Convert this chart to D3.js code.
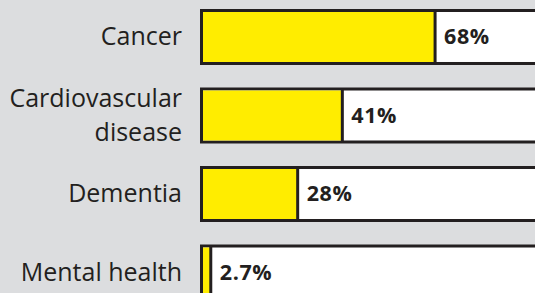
<!DOCTYPE html>
<html><head><meta charset="utf-8">
<script src="https://cdn.jsdelivr.net/npm/d3@7"></script>
<style>html,body{margin:0;padding:0;background:#dcdddf;}svg{display:block;}</style>
</head><body>
<script>
const categories = [["Cancer"], ["Cardiovascular", "disease"], ["Dementia"], ["Mental health"]];
const values = [68, 41, 28, 2.7];
const valueLabels = ["68%", "41%", "28%", "2.7%"];

const W = 535, H = 293;
const svg = d3.select("body").append("svg").attr("width", W).attr("height", H);
svg.append("rect").attr("width", W).attr("height", H).attr("fill", "#dcdddf");

const x = d3.scaleLinear().domain([0, 100]).range([201.5, 545]);
const y = d3.scaleBand().domain(d3.range(categories.length)).range([10.5, 299]).paddingInner(0.325).paddingOuter(0);
const ink = "#231f20";

const g = svg.selectAll("g.row").data(values).join("g").attr("class", "row")
  .attr("transform", (d, i) => `translate(0,${y(i)})`);
const bh = y.bandwidth();

g.append("rect").attr("x", x(0)).attr("y", 0).attr("width", x(100) + 20 - x(0)).attr("height", bh)
  .attr("fill", "#fff").attr("stroke", ink).attr("stroke-width", 3);
g.append("rect").attr("x", x(0) + 1.5).attr("y", 1.5).attr("width", d => Math.max(0, x(d) - x(0) - 1.5)).attr("height", bh - 3)
  .attr("fill", "#ffed00");
g.append("line").attr("x1", d => x(d)).attr("x2", d => x(d)).attr("y1", 0).attr("y2", bh)
  .attr("stroke", ink).attr("stroke-width", 3);
g.append("text").attr("x", d => x(d) + 9).attr("y", bh / 2 + 7.5)
  .attr("font-family", "Open Sans").attr("font-weight", "bold").attr("font-size", 21.5)
  .attr("letter-spacing", 0.6).attr("fill", ink)
  .text((d, i) => valueLabels[i]);

g.each(function(d, i) {
  const lines = categories[i];
  const lh = 35;
  const t = d3.select(this).append("text").attr("text-anchor", "end")
    .attr("font-family", "Open Sans").attr("font-size", 25).attr("fill", ink);
  lines.forEach((l, k) => {
    t.append("tspan").attr("x", 182).attr("y", bh / 2 + 8.5 + (k - (lines.length - 1) / 2) * lh).text(l);
  });
});
</script>
</body></html>
